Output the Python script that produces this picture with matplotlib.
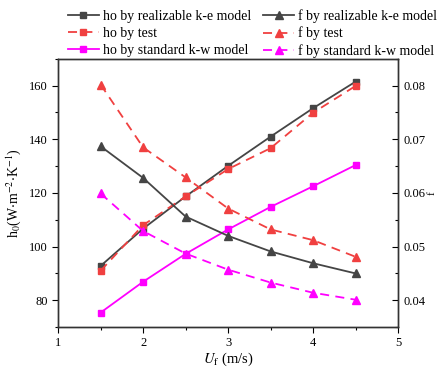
import matplotlib
matplotlib.use("Agg")
from matplotlib import pyplot as plt
from matplotlib.ticker import MultipleLocator

plt.rcParams['font.family'] = ['Liberation Serif', 'DejaVu Serif']
plt.rcParams['mathtext.fontset'] = 'stix'

uf = [1.5, 2.0, 2.5, 3.0, 3.5, 4.0, 4.5]
ho_realizable = [92.8, 106.7, 118.7, 130.1, 141.0, 151.6, 161.5]
ho_test = [91.0, 108.0, 118.7, 128.9, 136.7, 149.9, 159.9]
ho_kw = [75.4, 86.9, 97.3, 106.4, 114.8, 122.5, 130.4]
f_realizable = [0.0687, 0.0628, 0.0556, 0.0520, 0.0491, 0.0469, 0.0450]
f_test = [0.0802, 0.0685, 0.0629, 0.0571, 0.0532, 0.0512, 0.0481]
f_kw = [0.0599, 0.0529, 0.0487, 0.0457, 0.0433, 0.0414, 0.0401]

gray = '#454545'
red = '#f04040'
mag = '#ff00ff'
dash = (0, (5, 3.5))

fig = plt.figure(figsize=(4.37, 3.70), dpi=100)
ax = fig.add_axes([0.133, 0.116, 0.778, 0.725])
ax2 = ax.twinx()

l1, = ax.plot(uf, ho_realizable, '-s', color=gray, lw=1.3, ms=5, label='ho by realizable k-e model')
l2, = ax.plot(uf, ho_test, 's', ls=dash, color=red, lw=1.3, ms=5, label='ho by test')
l3, = ax.plot(uf, ho_kw, '-s', color=mag, lw=1.3, ms=5, label='ho by standard k-w model')
l4, = ax2.plot(uf, f_realizable, '-^', color=gray, lw=1.3, ms=6, label='f by realizable k-e model')
l5, = ax2.plot(uf, f_test, '^', ls=dash, color=red, lw=1.3, ms=6, label='f by test')
l6, = ax2.plot(uf, f_kw, '^', ls=dash, color=mag, lw=1.3, ms=6, label='f by standard k-w model')

ax.set_xlim(1, 5)
ax.set_ylim(70, 170)
ax2.set_ylim(0.035, 0.085)
ax.xaxis.set_major_locator(MultipleLocator(1))
ax.xaxis.set_minor_locator(MultipleLocator(0.5))
ax.yaxis.set_major_locator(MultipleLocator(20))
ax.yaxis.set_minor_locator(MultipleLocator(10))
ax2.yaxis.set_minor_locator(MultipleLocator(0.005))
ax2.set_yticks([0.04, 0.05, 0.06, 0.07, 0.08])
ax2.set_yticklabels(['0.04', '0.05', '0.06', '0.07', '0.08'])

ax.tick_params(axis='both', which='major', direction='out', length=4, width=0.8, labelsize=9)
ax.tick_params(axis='both', which='minor', direction='out', length=2.5, width=0.8)
ax2.tick_params(axis='y', which='major', direction='in', length=4, width=0.8, labelsize=9, pad=4)
ax2.tick_params(axis='y', which='minor', direction='in', length=2.5, width=0.8)

for a in (ax, ax2):
    for s in a.spines.values():
        s.set_linewidth(1.0)
        s.set_color('#333333')

ax.set_xlabel(r'$U_\mathrm{f}$ (m/s)', fontsize=10.5, labelpad=1)
ax.set_ylabel(r'h$_0$(W$\cdot$m$^{-2}$$\cdot$K$^{-1}$)', fontsize=10)
ax2.set_ylabel('f', fontsize=8, labelpad=1.5)

fig.legend(handles=[l1, l2, l3, l4, l5, l6], ncol=2, loc='upper left',
           bbox_to_anchor=(0.135, 1.0), frameon=False, fontsize=10,
           handlelength=2.2, handletextpad=0.3, columnspacing=0.9,
           labelspacing=0.28, borderaxespad=0.25)

fig.savefig('out.png', dpi=100)
